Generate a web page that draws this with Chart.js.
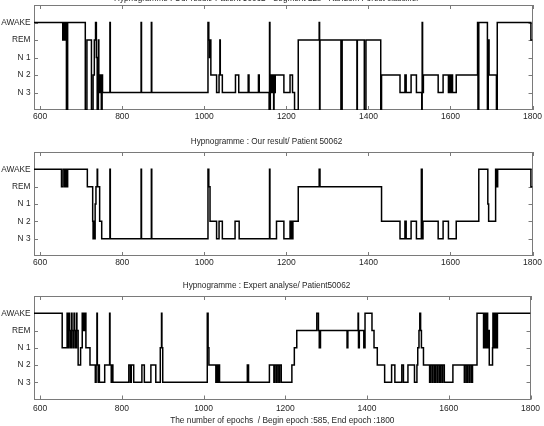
<!DOCTYPE html>
<html>
<head>
<meta charset="utf-8">
<script src="https://cdn.jsdelivr.net/npm/chart.js@4.4.0/dist/chart.umd.min.js"></script>
<style>
  html, body { margin: 0; padding: 0; background: #fff; }
  body { width: 544px; height: 426px; position: relative; overflow: hidden; }
  canvas { position: absolute; left: 0; }
</style>
</head>
<body>
<canvas id="hypTop" width="544" height="141" style="top:-11px"></canvas>
<canvas id="hypMid" width="544" height="140" style="top:136px"></canvas>
<canvas id="hypExp" width="544" height="146" style="top:280px"></canvas>
<script>
// Hypnogrammes patient 50062 – 3 panels, stepped lines
// stage code: 5 AWAKE, 4 REM, 3 N1, 2 N2, 1 N3, 0 = hors classe (bas du cadre)

const stageLabels = { 5: 'AWAKE', 4: 'REM', 3: 'N 1', 2: 'N 2', 1: 'N 3' };
const stageTicks = [1, 2, 3, 4, 5];
const epochTicks = [600, 800, 1000, 1200, 1400, 1600, 1800];
const beginEpoch = 585;
const endEpoch = 1800;

const titles = [
  'Hypnogramme : Our result/ Patient 50062 - Segment 22s - Random Forest classifier',
  'Hypnogramme : Our result/ Patient 50062',
  'Hypnogramme : Expert analyse/ Patient50062'
];
const xAxisTitle = 'The number of epochs  / Begin epoch :585, End epoch :1800';

// panel 1 : change points (epoch where the stage starts)
const topEpochs = [585, 655, 657, 658, 660, 661, 663, 664, 667, 710, 714, 725, 729, 732, 735, 737, 739, 742, 743, 745,
  746, 747, 748, 749, 751, 752, 770, 771, 846, 847, 871, 872, 1009, 1011, 1013, 1014, 1016, 1030, 1036, 1038,
  1039, 1044, 1076, 1084, 1107, 1109, 1132, 1134, 1158, 1159, 1160, 1161, 1163, 1164, 1166, 1167, 1169, 1170, 1172, 1173,
  1194, 1209, 1215, 1220, 1229, 1280, 1281, 1282, 1333, 1336, 1372, 1373, 1390, 1394, 1430, 1432, 1477, 1489, 1492, 1504,
  1517, 1530, 1531, 1532, 1534, 1570, 1582, 1595, 1598, 1600, 1603, 1605, 1614, 1666, 1667, 1669, 1690, 1692, 1694, 1712,
  1714, 1796, 1800];
const topStages = [5, 4, 5, 4, 5, 4, 5, 0, 5, 0, 4, 0, 2, 4, 5, 3, 0, 4, 2, 1,
  2, 1, 2, 0, 2, 1, 5, 1, 5, 1, 5, 1, 5, 4, 3, 4, 2, 1, 2, 4,
  2, 1, 2, 1, 2, 1, 2, 1, 0, 5, 0, 2, 1, 2, 1, 2, 0, 2, 1, 2,
  1, 2, 1, 0, 4, 5, 0, 4, 0, 4, 0, 4, 0, 4, 0, 2, 1, 2, 1, 2,
  1, 0, 5, 1, 2, 1, 2, 1, 2, 1, 2, 1, 2, 5, 0, 5, 0, 4, 2, 0,
  5, 4, 4];

// panel 2 : our result
const midEpochs = [585, 652, 656, 660, 661, 662, 664, 665, 667, 715, 728, 729, 731, 732, 734, 736, 739, 740, 745, 750,
  770, 771, 846, 847, 871, 872, 1009, 1011, 1014, 1030, 1036, 1044, 1075, 1085, 1159, 1160, 1176, 1194, 1209, 1211,
  1213, 1214, 1216, 1229, 1280, 1282, 1432, 1477, 1489, 1492, 1504, 1517, 1529, 1531, 1533, 1570, 1582, 1595, 1614, 1669,
  1691, 1693, 1710, 1712, 1713, 1714, 1715, 1796, 1800];
const midStages = [5, 4, 5, 4, 5, 4, 5, 4, 5, 4, 2, 1, 2, 1, 3, 4, 5, 4, 2, 1,
  5, 1, 5, 1, 5, 1, 5, 4, 2, 1, 2, 1, 2, 1, 5, 1, 2, 1, 2, 1,
  2, 1, 2, 4, 5, 4, 2, 1, 2, 1, 2, 1, 5, 1, 2, 1, 2, 1, 2, 5,
  3, 2, 5, 4, 5, 4, 5, 4, 4];

// panel 3 : expert scoring
const expEpochs = [585, 654, 666, 668, 671, 672, 675, 677, 678, 681, 683, 684, 687, 689, 690, 693, 699, 703, 705, 706,
  708, 709, 712, 722, 735, 737, 739, 740, 742, 744, 745, 758, 770, 771, 774, 776, 778, 817, 821, 823,
  829, 849, 855, 871, 883, 894, 897, 898, 900, 1009, 1011, 1013, 1030, 1033, 1034, 1037, 1039, 1107, 1110, 1161,
  1172, 1174, 1178, 1180, 1184, 1186, 1190, 1216, 1222, 1228, 1277, 1281, 1283, 1286, 1351, 1353, 1378, 1379, 1381, 1392,
  1395, 1412, 1417, 1425, 1443, 1460, 1468, 1485, 1489, 1500, 1516, 1522, 1524, 1527, 1529, 1531, 1533, 1538, 1553, 1555,
  1559, 1561, 1565, 1567, 1571, 1573, 1577, 1579, 1583, 1585, 1589, 1610, 1638, 1640, 1644, 1646, 1650, 1652, 1656, 1658,
  1669, 1685, 1686, 1687, 1688, 1689, 1690, 1691, 1692, 1693, 1694, 1695, 1697, 1699, 1707, 1708, 1709, 1710, 1711, 1712,
  1713, 1714, 1715, 1716, 1717, 1719, 1800];
const expStages = [5, 3, 5, 3, 5, 4, 3, 5, 4, 3, 5, 4, 3, 5, 4, 2, 3, 5, 4, 5,
  4, 5, 3, 2, 1, 2, 5, 2, 1, 2, 1, 2, 5, 2, 1, 2, 1, 2, 1, 2,
  1, 2, 1, 2, 1, 3, 5, 3, 1, 5, 3, 2, 1, 2, 1, 2, 1, 2, 1, 2,
  1, 2, 1, 2, 1, 2, 1, 2, 3, 4, 5, 4, 3, 4, 3, 4, 5, 3, 4, 3,
  5, 4, 3, 2, 1, 2, 1, 2, 1, 2, 1, 2, 3, 4, 5, 4, 3, 2, 1, 2,
  1, 2, 1, 2, 1, 2, 1, 2, 1, 2, 1, 2, 1, 2, 1, 2, 1, 2, 1, 2,
  5, 3, 5, 3, 5, 4, 5, 3, 5, 4, 5, 3, 4, 2, 3, 5, 3, 5, 4, 5,
  3, 5, 4, 5, 3, 5, 5];

(function () {
  const FONT = 'Liberation Sans, Arial, Helvetica, sans-serif';
  const TEXT = '#262626';
  const FRAME = '#7a7a7a';

  // Matlab-like box with inward ticks
  const matlabBox = {
    id: 'matlabBox',
    beforeDatasetsDraw(chart) {
      const { ctx, chartArea: a, scales: { x, y } } = chart;
      ctx.save();
      ctx.strokeStyle = FRAME;
      ctx.lineWidth = 1;
      ctx.strokeRect(Math.round(a.left) + 0.5, Math.round(a.top) + 0.5,
        Math.round(a.right) - Math.round(a.left) - 1, Math.round(a.bottom) - Math.round(a.top) - 1);
      ctx.beginPath();
      epochTicks.forEach(v => {
        const px = Math.round(x.getPixelForValue(v)) + 0.5;
        ctx.moveTo(px, a.top); ctx.lineTo(px, a.top + 4);
        ctx.moveTo(px, a.bottom); ctx.lineTo(px, a.bottom - 4);
      });
      stageTicks.forEach(v => {
        const py = Math.round(y.getPixelForValue(v)) + 0.5;
        ctx.moveTo(a.left, py); ctx.lineTo(a.left + 4, py);
        ctx.moveTo(a.right, py); ctx.lineTo(a.right - 4, py);
      });
      ctx.stroke();
      ctx.restore();
    }
  };

  function toPoints(epochs, stages) {
    return epochs.map((e, i) => ({ x: e, y: stages[i] }));
  }

  function makeChart(id, epochs, stages, title, titlePad, xh, tickPad, withXTitle) {
    const canvas = document.getElementById(id);
    if (!canvas) return;
    new Chart(canvas.getContext('2d'), {
      type: 'line',
      data: {
        datasets: [{
          data: toPoints(epochs, stages),
          stepped: true,
          borderColor: '#000',
          borderWidth: 1.5,
          pointRadius: 0,
          fill: false
        }]
      },
      options: {
        responsive: false,
        animation: false,
        layout: { padding: { left: 0, right: 11, top: 0, bottom: 0 } },
        plugins: {
          legend: { display: false },
          tooltip: { enabled: false },
          title: {
            display: true,
            text: title,
            color: TEXT,
            font: { family: FONT, size: 8.2, weight: 'normal', lineHeight: 1 },
            padding: titlePad
          }
        },
        scales: {
          x: {
            type: 'linear',
            min: beginEpoch,
            max: endEpoch,
            grid: { display: false, drawTicks: false },
            border: { display: false },
            afterBuildTicks: s => { s.ticks = epochTicks.map(v => ({ value: v })); },
            afterFit: s => { s.height = xh; },
            ticks: {
              color: TEXT,
              padding: tickPad,
              maxRotation: 0,
              font: { family: FONT, size: 8.5 },
              callback: v => String(v)
            },
            title: {
              display: withXTitle,
              text: xAxisTitle,
              color: TEXT,
              font: { family: FONT, size: 8.3 },
              padding: { top: 0, bottom: 0 }
            }
          },
          y: {
            min: 0,
            max: 6,
            grid: { display: false, drawTicks: false },
            border: { display: false },
            afterBuildTicks: s => { s.ticks = stageTicks.map(v => ({ value: v })); },
            afterFit: s => { s.width = 34; },
            ticks: {
              color: TEXT,
              padding: 3.5,
              font: { family: FONT, size: 8.3 },
              callback: v => stageLabels[v] || ''
            }
          }
        }
      },
      plugins: [matlabBox]
    });
  }

  makeChart('hypTop', topEpochs, topStages, titles[0], { top: 5.8, bottom: 2 }, 20, 2, false);
  makeChart('hypMid', midEpochs, midStages, titles[1], { top: 2, bottom: 5.8 }, 20, 2, false);
  makeChart('hypExp', expEpochs, expStages, titles[2], { top: 2, bottom: 5.8 }, 26.5, 4, true);
})();
</script>
</body>
</html>
